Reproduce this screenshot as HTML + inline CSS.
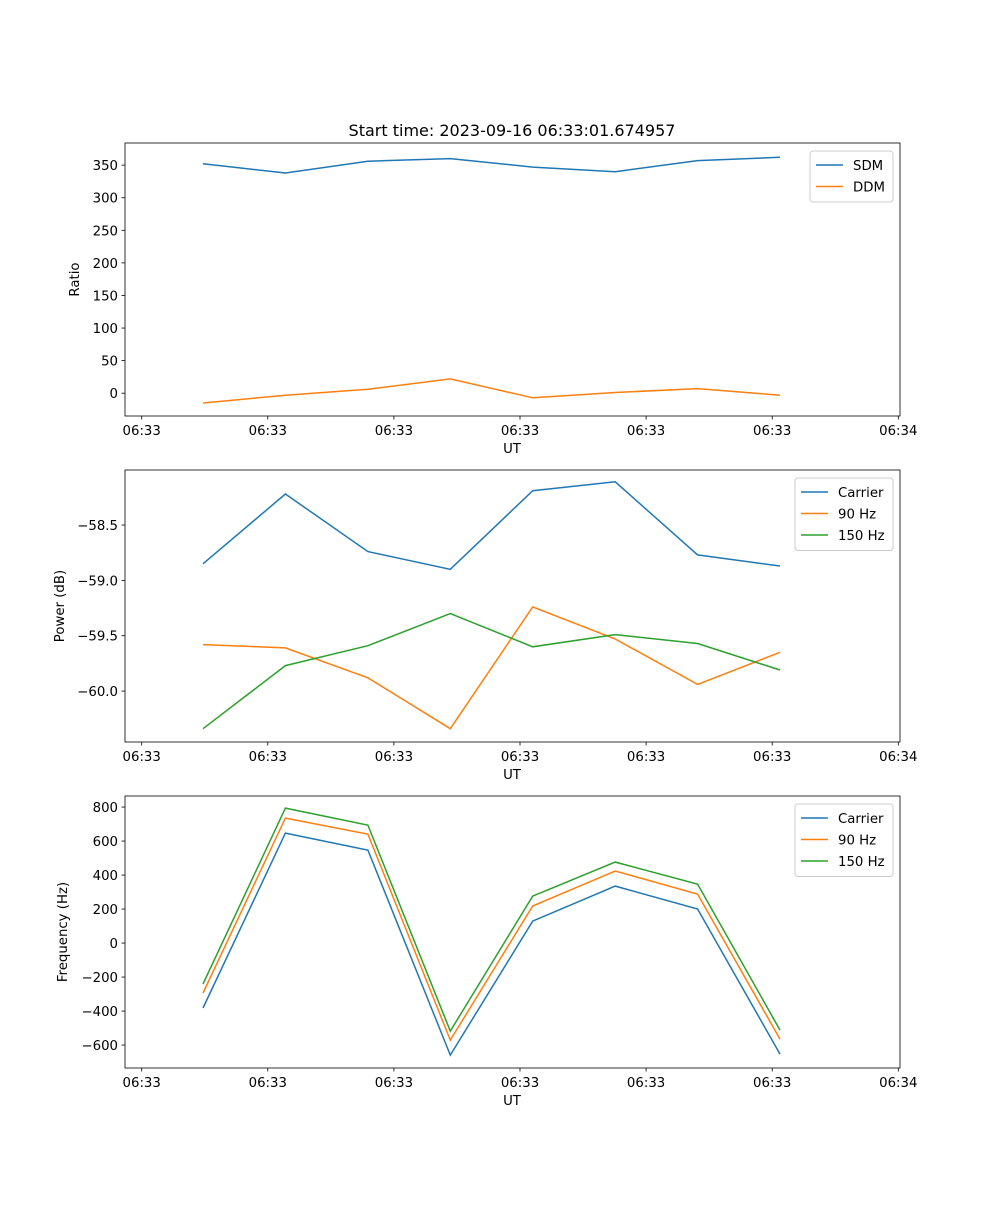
<!DOCTYPE html>
<html><head><meta charset="utf-8"><style>
body{margin:0;background:#fff}
svg text{font-family:"DejaVu Sans","Liberation Sans",sans-serif;font-size:13.3px;fill:#000}
</style></head><body>
<svg id="fig" width="1000" height="1200" xmlns="http://www.w3.org/2000/svg">
<text x="512" y="136" text-anchor="middle" style="font-size:16px">Start time: 2023-09-16 06:33:01.674957</text>
</svg>
<script>
const xTickLabels=["06:33","06:33","06:33","06:33","06:33","06:33","06:34"];
const ratioTicks=[0,50,100,150,200,250,300,350];
const sdm=[352,338,356,360,347,340,357,362];
const ddm=[-15,-3,6,22,-7,1,7,-3];
const powerTicks=[-60.0,-59.5,-59.0,-58.5];
const powCarrier=[-58.85,-58.22,-58.74,-58.90,-58.19,-58.11,-58.77,-58.87];
const pow90=[-59.58,-59.61,-59.88,-60.34,-59.24,-59.53,-59.94,-59.65];
const pow150=[-60.34,-59.77,-59.59,-59.30,-59.60,-59.49,-59.57,-59.81];
const freqTicks=[-600,-400,-200,0,200,400,600,800];
const freqCarrier=[-382,647,547,-659,129,335,200,-653];
const freq90=[-294,735,641,-571,218,424,288,-565];
const freq150=[-241,794,694,-518,276,476,347,-512];
const C=["#1f77b4","#ff7f0e","#2ca02c"];
const svg=document.getElementById('fig');
const NS="http://www.w3.org/2000/svg";
function mk(t,a,p){const e=document.createElementNS(NS,t);for(const k in a)e.setAttribute(k,a[k]);(p||svg).appendChild(e);return e;}
const X0=125,X1=900;
const xScale=i=>203+i*82.43;
const xTickPos=k=>141.7+k*126.1;
function panel(name,top,bot,ymin,ymax,ticks,fmt,ylabel,ylabX,series,names,legendW){
  const g=mk('g',{});
  
  
  const ys=v=>bot-(v-ymin)/(ymax-ymin)*(bot-top);
  series.forEach((s,j)=>{
    const pts=s.map((v,i)=>xScale(i).toFixed(1)+','+ys(v).toFixed(1)).join(' ');
    const l=mk('polyline',{points:pts,fill:'none',stroke:C[j],'stroke-width':1.5},g);
    
    
  });
  const fr=mk('rect',{x:X0,y:top,width:X1-X0,height:bot-top,fill:'none',stroke:'#000','stroke-width':0.8},g);
  
  
  ticks.forEach(v=>{
    const y=ys(v);
    mk('line',{x1:X0-3.5,x2:X0,y1:y,y2:y,stroke:'#000','stroke-width':0.8},g);
    const t=mk('text',{x:X0-7,y:y+5,'text-anchor':'end'},g);
    t.textContent=fmt(v);
    
    
  });
  xTickLabels.forEach((s,k)=>{
    const x=xTickPos(k);
    mk('line',{x1:x,x2:x,y1:bot,y2:bot+3.5,stroke:'#000','stroke-width':0.8},g);
    const t=mk('text',{x:x,y:bot+19,'text-anchor':'middle'},g);
    t.textContent=s;
    
    
  });
  const xl=mk('text',{x:512,y:bot+37,'text-anchor':'middle'},g);
  xl.textContent='UT';
  
  
  const cy=(top+bot)/2;
  const yl=mk('text',{x:ylabX,y:cy,'text-anchor':'middle',transform:`rotate(-90 ${ylabX} ${cy})`},g);
  yl.textContent=ylabel;
  
  
  const lx=X1-7-legendW, ly=top+8, lh=names.length*21.5+8;
  const lg=mk('g',{},g);
  
  
  mk('rect',{x:lx,y:ly,width:legendW,height:lh,rx:3,fill:'#fff','fill-opacity':0.8,stroke:'#ccc'},lg);
  names.forEach((n,j)=>{
    const yy=ly+14+j*21.5;
    mk('line',{x1:lx+6,x2:lx+33,y1:yy,y2:yy,stroke:C[j],'stroke-width':1.5},lg);
    const t=mk('text',{x:lx+43,y:yy+5},lg);
    t.textContent=n;
    
    
  });
}
const unicodeMinus=s=>s.replace('-','\u2212');
panel('ratio',143,416,-35,384,ratioTicks,v=>unicodeMinus(String(v)),'Ratio',79,[sdm,ddm],['SDM','DDM'],83);
panel('power',470,742,-60.46,-58.003,powerTicks,v=>unicodeMinus(v.toFixed(1)),'Power (dB)',64,[powCarrier,pow90,pow150],['Carrier','90 Hz','150 Hz'],98);
panel('frequency',796,1068,-735,865,freqTicks,v=>unicodeMinus(String(v)),'Frequency (Hz)',67,[freqCarrier,freq90,freq150],['Carrier','90 Hz','150 Hz'],98);
</script>
</body></html>
